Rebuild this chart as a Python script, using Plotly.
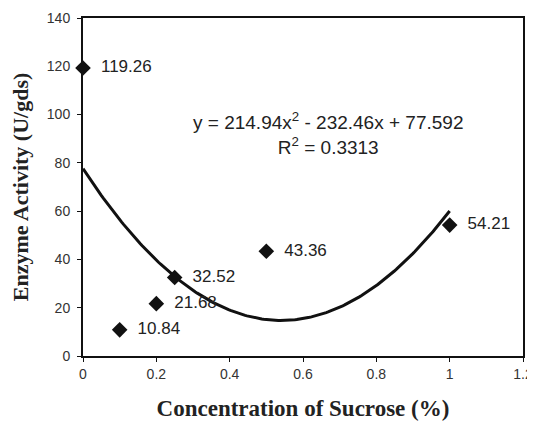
import numpy as np
import plotly.graph_objects as go

sucrose = [0, 0.1, 0.2, 0.25, 0.5, 1.0]
activity = [119.26, 10.84, 21.68, 32.52, 43.36, 54.21]
labels = ["119.26", "10.84", "21.68", "32.52", "43.36", "54.21"]
coef = [214.94, -232.46, 77.592]  # quadratic trendline coefficients

xs = np.linspace(0, 1, 200)
ys = coef[0] * xs**2 + coef[1] * xs + coef[2]

fig = go.Figure()
fig.add_trace(go.Scatter(x=xs, y=ys, mode="lines",
                         line=dict(color="#111", width=3), hoverinfo="skip"))
fig.add_trace(go.Scatter(x=sucrose, y=activity, mode="markers+text",
                         marker=dict(symbol="diamond", size=12, color="#111"),
                         text=["  " + t for t in labels], textposition="middle right",
                         textfont=dict(family="Liberation Sans, Arial", size=17, color="#222"),
                         cliponaxis=False))

fig.add_annotation(x=0.667, y=92, xref="x", yref="y", showarrow=False,
                   text="y = 214.94x<sup>2</sup> - 232.46x + 77.592<br>R<sup>2</sup> = 0.3313",
                   font=dict(family="Liberation Sans, Arial", size=19, color="#222"),
                   align="center")

fig.update_layout(
    width=527, height=418,
    margin=dict(l=75, r=12, t=10, b=70, autoexpand=False),
    paper_bgcolor="white", plot_bgcolor="white",
    showlegend=False,
    xaxis=dict(range=[0, 1.2], tickvals=[0, 0.2, 0.4, 0.6, 0.8, 1, 1.2],
               ticktext=["0", "0.2", "0.4", "0.6", "0.8", "1", "1.2"],
               automargin=False, ticklabeloverflow="allow",
               showgrid=False, zeroline=False, showline=True, linecolor="#111",
               linewidth=2, mirror=True, ticks="outside", ticklen=4, tickcolor="#111",
               tickfont=dict(family="Liberation Sans, Arial", size=14, color="#333"),
               title=dict(text="<b>Concentration of Sucrose (%)</b>", standoff=19,
                          font=dict(family="Liberation Serif, Times New Roman", size=23, color="#222"))),
    yaxis=dict(range=[0, 140], dtick=20, showgrid=False, zeroline=False, showline=True,
               automargin=False, ticklabelstandoff=4,
               linecolor="#111", linewidth=2, mirror=True, ticks="outside", ticklen=4,
               tickcolor="#111",
               tickfont=dict(family="Liberation Sans, Arial", size=14, color="#333"),
               title=dict(text="<b>Enzyme Activity (U/gds)</b>", standoff=14,
                          font=dict(family="Liberation Serif, Times New Roman", size=22, color="#222"))),
)

fig.write_html("out.html")
